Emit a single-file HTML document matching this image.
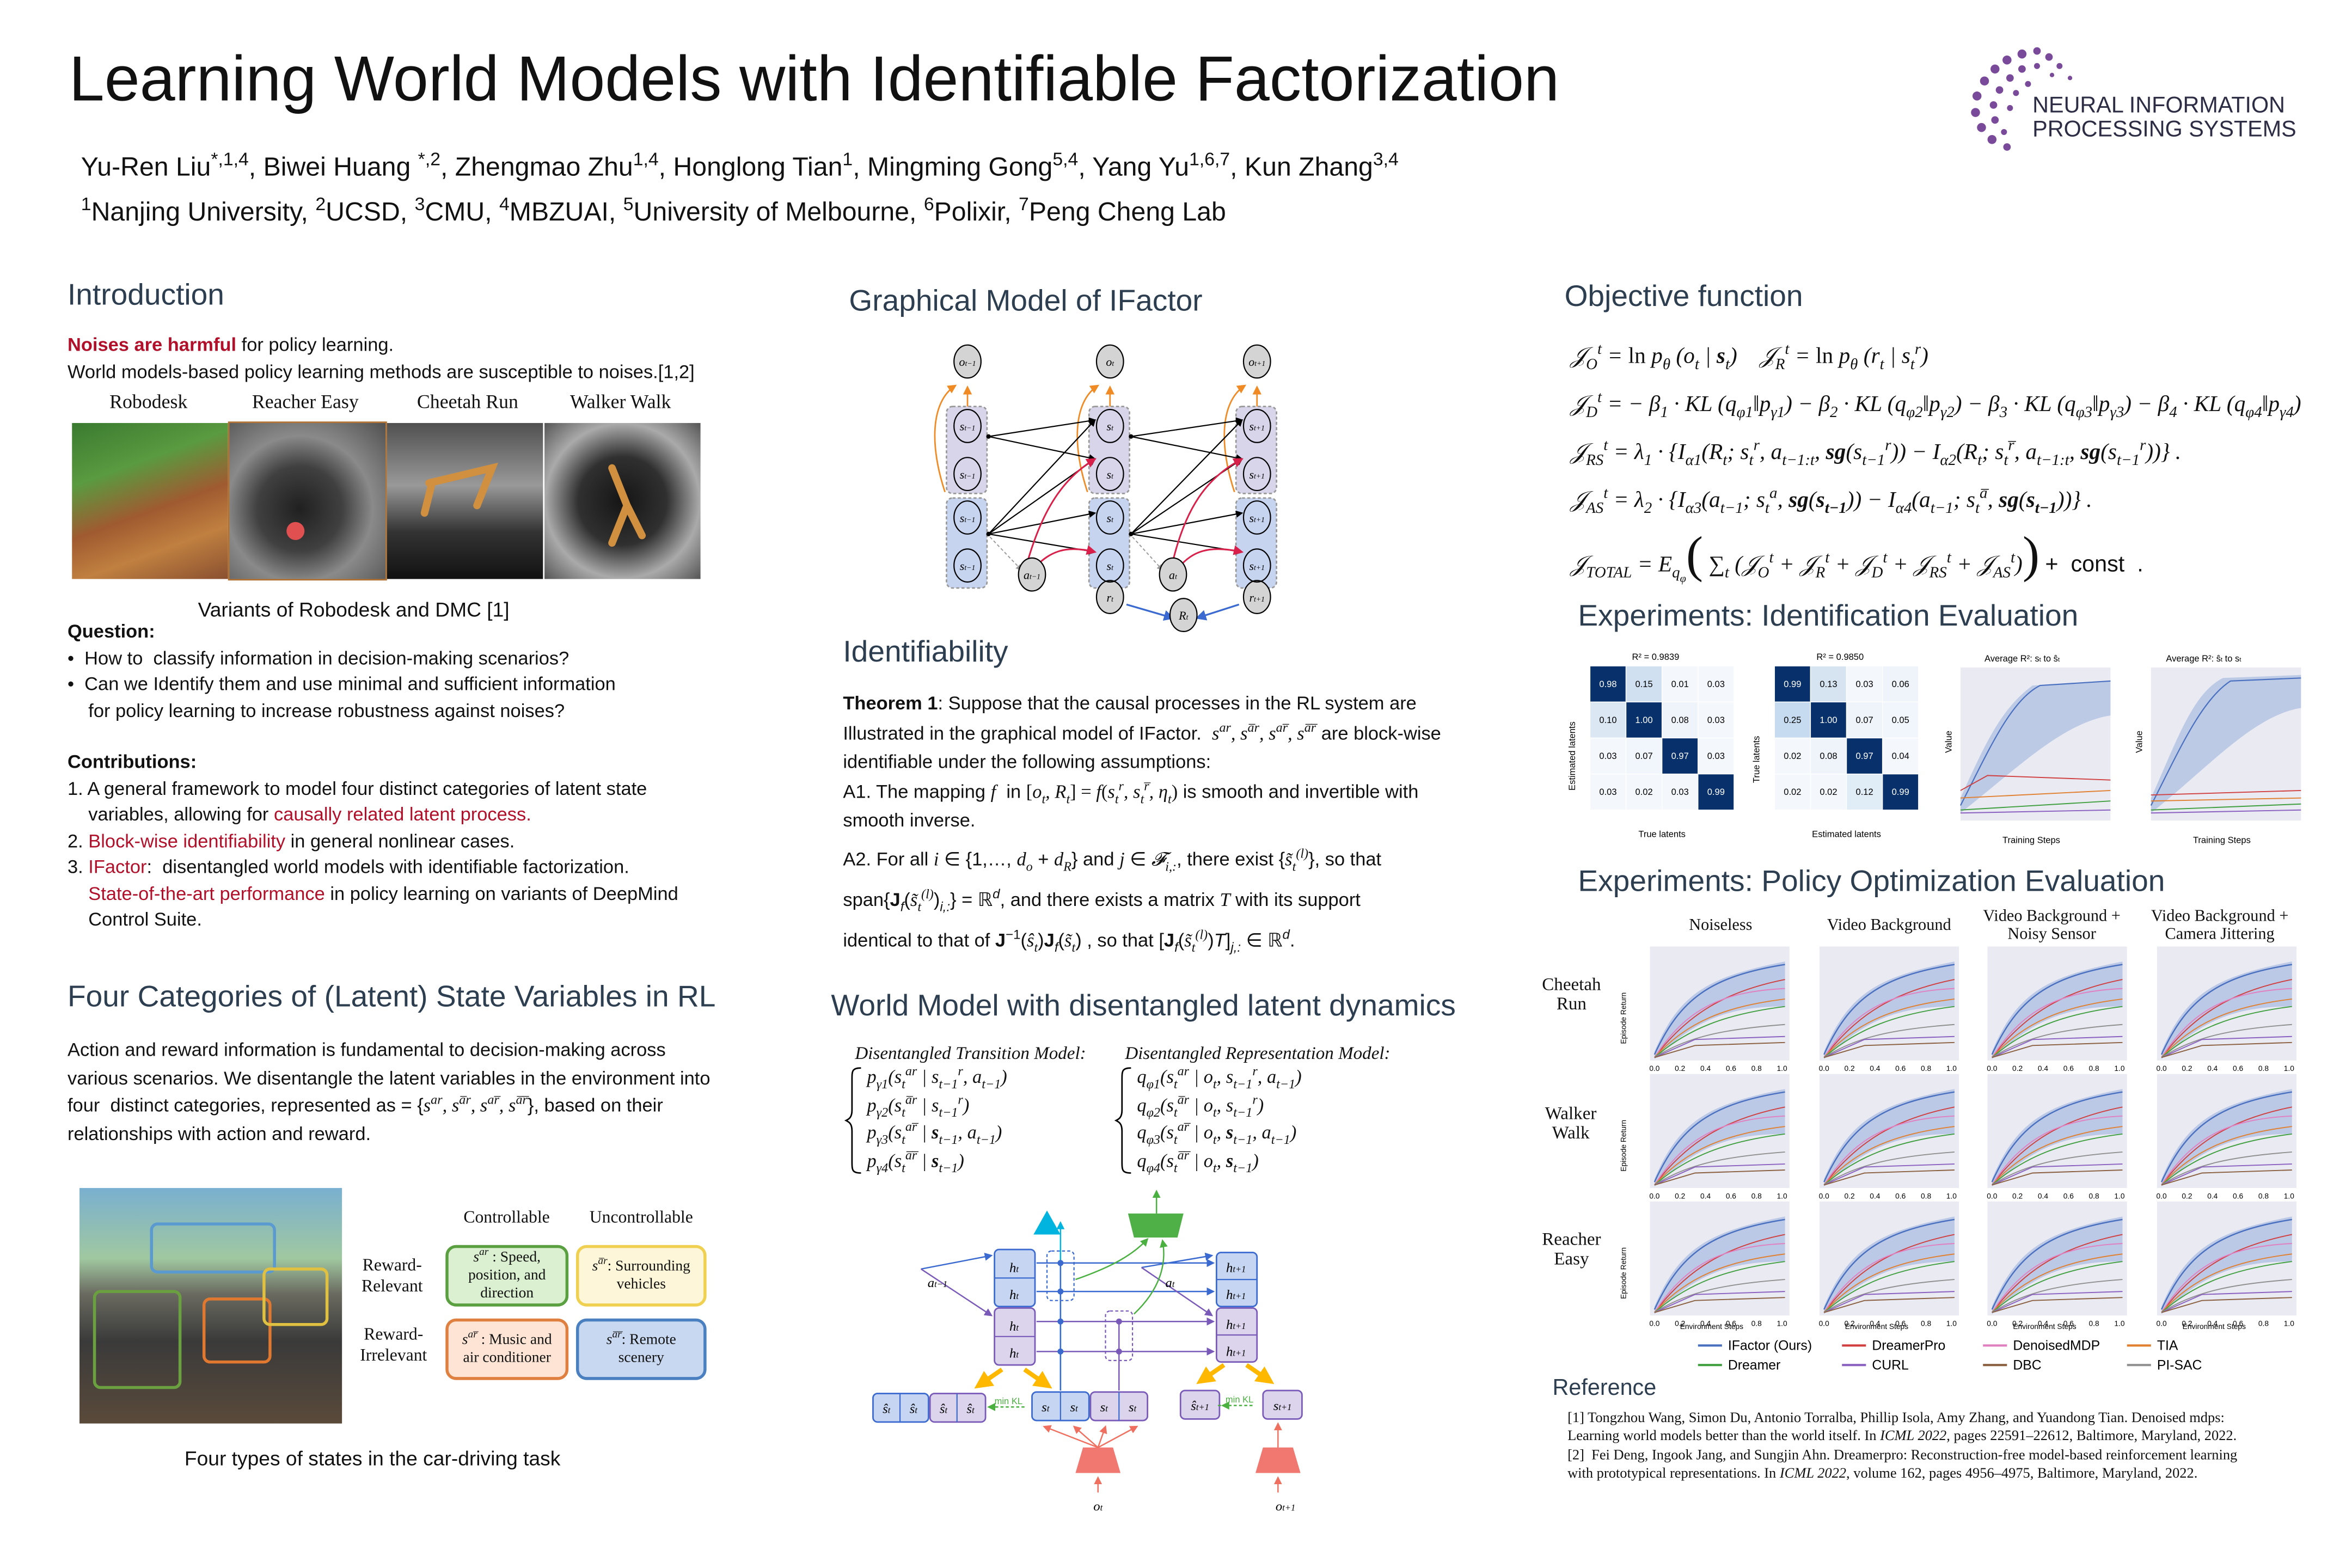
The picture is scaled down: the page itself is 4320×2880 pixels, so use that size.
<!DOCTYPE html>
<html><head><meta charset="utf-8"><style>
html,body{margin:0;padding:0;background:#fff;}
body{width:4320px;height:2880px;overflow:hidden;position:relative;}
#w{position:absolute;left:0;top:0;width:1568px;height:1045px;transform:scale(2.7551);transform-origin:0 0;font-family:"Liberation Sans",sans-serif;color:#111;}
.a{position:absolute;white-space:nowrap;}
.h{font-size:20px;color:#2c3e50;}
.t{font-size:12.5px;line-height:17.5px;}
.r{color:#b0102a;}
.s{font-family:"Liberation Serif",serif;}
.m{font-family:"Liberation Serif",serif;font-style:italic;}
sup,sub{font-size:70%;line-height:0;}
.box{position:absolute;border-radius:7px;border:2px solid;font-family:"Liberation Serif",serif;font-size:10px;text-align:center;display:flex;align-items:center;justify-content:center;line-height:12px;}
</style></head><body><div id="w">

<div class="a" style="left:46px;top:29px;font-size:42.4px;">Learning World Models with Identifiable Factorization</div>
<div class="a" style="left:54px;top:101px;font-size:17.5px;">Yu-Ren Liu<sup>*,1,4</sup>, Biwei Huang <sup>*,2</sup>, Zhengmao Zhu<sup>1,4</sup>, Honglong Tian<sup>1</sup>, Mingming Gong<sup>5,4</sup>, Yang Yu<sup>1,6,7</sup>, Kun Zhang<sup>3,4</sup></div>
<div class="a" style="left:54px;top:131px;font-size:17.5px;"><sup>1</sup>Nanjing University, <sup>2</sup>UCSD, <sup>3</sup>CMU, <sup>4</sup>MBZUAI, <sup>5</sup>University of Melbourne, <sup>6</sup>Polixir, <sup>7</sup>Peng Cheng Lab</div>

<svg class="a" style="left:1308px;top:28px" width="80" height="75">
<g fill="#7a4a9a">
<circle cx="40" cy="8" r="3"/><circle cx="50" cy="6" r="2.5"/><circle cx="58" cy="10" r="2.5"/><circle cx="65" cy="16" r="2"/><circle cx="30" cy="12" r="3"/><circle cx="22" cy="18" r="3"/><circle cx="15" cy="26" r="3"/><circle cx="10" cy="36" r="3"/><circle cx="9" cy="47" r="3"/><circle cx="13" cy="57" r="3"/><circle cx="20" cy="65" r="3"/><circle cx="30" cy="70" r="2.5"/><circle cx="40" cy="18" r="2.5"/><circle cx="32" cy="24" r="2.5"/><circle cx="25" cy="32" r="2.5"/><circle cx="21" cy="42" r="2.5"/><circle cx="22" cy="52" r="2.5"/><circle cx="28" cy="60" r="2"/><circle cx="50" cy="16" r="2"/><circle cx="44" cy="28" r="2"/><circle cx="36" cy="34" r="2"/><circle cx="32" cy="44" r="2"/><circle cx="72" cy="24" r="1.5"/><circle cx="60" cy="22" r="1.5"/></g></svg>
<div class="a" style="left:1355px;top:63px;font-size:15px;line-height:16px;color:#2c2c44;">NEURAL INFORMATION<br>PROCESSING SYSTEMS</div>

<!-- LEFT COLUMN -->
<div class="a h" style="left:45px;top:186px;">Introduction</div>
<div class="a t" style="left:45px;top:222px;"><b class="r">Noises are harmful</b> for policy learning.<br>World models-based policy learning methods are susceptible to noises.[1,2]</div>
<div class="a s" style="left:73px;top:260px;font-size:13px;">Robodesk</div>
<div class="a s" style="left:168px;top:260px;font-size:13px;">Reacher Easy</div>
<div class="a s" style="left:278px;top:260px;font-size:13px;">Cheetah Run</div>
<div class="a s" style="left:380px;top:260px;font-size:13px;">Walker Walk</div>
<div class="a" style="left:48px;top:282px;width:104px;height:104px;background:linear-gradient(160deg,#3a7a30 0%,#5a9a40 30%,#a05a30 55%,#c08040 75%,#8a5030 100%);"></div>
<div class="a" style="left:153px;top:282px;width:104px;height:104px;background:radial-gradient(circle at 45% 55%,#202020 0%,#404040 35%,#8a8a8a 60%,#505050 100%);outline:1px solid #b07030;"></div>
<div class="a" style="left:191px;top:348px;width:12px;height:12px;border-radius:50%;background:#e05050;"></div>
<div class="a" style="left:258px;top:282px;width:104px;height:104px;background:linear-gradient(180deg,#505050 0%,#999 40%,#333 70%,#111 100%);"></div>
<div class="a" style="left:363px;top:282px;width:104px;height:104px;background:radial-gradient(circle at 50% 50%,#151515 0%,#303030 40%,#aaa 70%,#555 100%);"></div>
<svg class="a" style="left:258px;top:282px" width="210" height="104"><g stroke="#d09040" stroke-width="5" fill="none" stroke-linecap="round"><path d="M28 40 L70 30 L60 55 M30 40 L25 60"/><path d="M150 30 L160 55 L150 80 M160 55 L170 75"/></g></svg>
<div class="a" style="left:132px;top:399px;font-size:13.5px;">Variants of Robodesk and DMC [1]</div>
<div class="a t" style="left:45px;top:413px;"><b>Question:</b><br>• &nbsp;How to &nbsp;classify information in decision-making scenarios?<br>• &nbsp;Can we Identify them and use minimal and sufficient information<br>&nbsp;&nbsp;&nbsp;&nbsp;for policy learning to increase robustness against noises?</div>
<div class="a t" style="left:45px;top:500px;"><b>Contributions:</b><br>1. A general framework to model four distinct categories of latent state<br>&nbsp;&nbsp;&nbsp;&nbsp;variables, allowing for <span class="r">causally related latent process.</span><br>2. <span class="r">Block-wise identifiability</span> in general nonlinear cases.<br>3. <span class="r">IFactor</span>: &nbsp;disentangled world models with identifiable factorization.<br>&nbsp;&nbsp;&nbsp;&nbsp;<span class="r">State-of-the-art performance</span> in policy learning on variants of DeepMind<br>&nbsp;&nbsp;&nbsp;&nbsp;Control Suite.</div>
<div class="a h" style="left:45px;top:654px;">Four Categories of (Latent) State Variables in RL</div>
<div class="a t" style="left:45px;top:691px;line-height:18.5px;">Action and reward information is fundamental to decision-making across<br>various scenarios. We disentangle the latent variables in the environment into<br>four &nbsp;distinct categories, represented as = {<i class="m">s<sup>ar</sup>, s<sup>a̅r</sup>, s<sup>ar̅</sup>, s<sup>a̅r̅</sup></i>}, based on their<br>relationships with action and reward.</div>
<div class="a" style="left:53px;top:792px;width:175px;height:157px;background:linear-gradient(180deg,#7ab0d0 0%,#a0c8a0 30%,#6a6a60 45%,#3a3a3a 65%,#5a4a3a 100%);"></div>
<div class="a" style="left:62px;top:860px;width:55px;height:62px;border:2px solid #6aa040;border-radius:5px;"></div>
<div class="a" style="left:100px;top:815px;width:80px;height:30px;border:2px solid #5a9ad0;border-radius:5px;"></div>
<div class="a" style="left:135px;top:865px;width:42px;height:40px;border:2px solid #e07830;border-radius:5px;"></div>
<div class="a" style="left:175px;top:845px;width:40px;height:35px;border:2px solid #e0c040;border-radius:5px;"></div>
<div class="a s" style="left:309px;top:806px;font-size:11.5px;">Controllable</div>
<div class="a s" style="left:393px;top:806px;font-size:11.5px;">Uncontrollable</div>
<div class="a s" style="left:241px;top:837px;font-size:11.5px;line-height:14px;text-align:center;">Reward-<br>Relevant</div>
<div class="a s" style="left:240px;top:883px;font-size:11.5px;line-height:14px;text-align:center;">Reward-<br>Irrelevant</div>
<div class="box" style="left:297px;top:830px;width:78px;height:37px;border-color:#5aa040;background:#daf0d0;"><span><i>s<sup>ar</sup></i> : Speed,<br>position, and<br>direction</span></div>
<div class="box" style="left:384px;top:830px;width:83px;height:37px;border-color:#f0d050;background:#fdf6d8;"><span><i>s<sup>a̅r</sup></i>: Surrounding<br>vehicles</span></div>
<div class="box" style="left:297px;top:879px;width:78px;height:37px;border-color:#e08040;background:#fde4d4;"><span><i>s<sup>ar̅</sup></i> : Music and<br>air conditioner</span></div>
<div class="box" style="left:384px;top:879px;width:83px;height:37px;border-color:#4a80c0;background:#c8d8f0;"><span><i>s<sup>a̅r̅</sup></i>: Remote<br>scenery</span></div>
<div class="a" style="left:123px;top:965px;font-size:13.5px;">Four types of states in the car-driving task</div>

<!-- MIDDLE COLUMN -->
<div class="a h" style="left:566px;top:190px;">Graphical Model of IFactor</div>
<svg class="a" style="left:600px;top:228px" width="280" height="200" font-family="Liberation Serif" font-style="italic" font-size="8">
<defs>
<marker id="k" markerWidth="6" markerHeight="6" refX="5" refY="3" orient="auto"><path d="M0 0L6 3L0 6z" fill="#000"/></marker>
<marker id="o" markerWidth="6" markerHeight="6" refX="5" refY="3" orient="auto"><path d="M0 0L6 3L0 6z" fill="#f08a24"/></marker>
<marker id="rd" markerWidth="6" markerHeight="6" refX="5" refY="3" orient="auto"><path d="M0 0L6 3L0 6z" fill="#d8204a"/></marker>
<marker id="bl" markerWidth="6" markerHeight="6" refX="5" refY="3" orient="auto"><path d="M0 0L6 3L0 6z" fill="#3a6ad0"/></marker>
<marker id="gy" markerWidth="6" markerHeight="6" refX="5" refY="3" orient="auto"><path d="M0 0L6 3L0 6z" fill="#999"/></marker>
</defs>
<g fill="#d8d4ea" stroke="#999" stroke-dasharray="2,1.5"><rect x="31" y="43" width="27" height="58" rx="4"/><rect x="126" y="43" width="27" height="58" rx="4"/><rect x="224" y="43" width="27" height="58" rx="4"/></g>
<g fill="#c6d4f0" stroke="#999" stroke-dasharray="2,1.5"><rect x="31" y="104" width="27" height="60" rx="4"/><rect x="126" y="104" width="27" height="60" rx="4"/><rect x="224" y="104" width="27" height="60" rx="4"/></g>
<g stroke="#f08a24" fill="none" stroke-width="1"><path d="M45 43 L45 30" marker-end="url(#o)"/><path d="M140 43 L140 30" marker-end="url(#o)"/><path d="M238 43 L238 30" marker-end="url(#o)"/><path d="M30 100 C20 70 20 40 37 29" marker-end="url(#o)"/><path d="M125 100 C115 70 115 40 132 29" marker-end="url(#o)"/><path d="M223 100 C213 70 213 40 230 29" marker-end="url(#o)"/></g>
<g stroke="#000" fill="none" stroke-width="0.8" marker-end="url(#k)"><path d="M59 63 L130 52"/><path d="M59 63 L130 78"/><path d="M59 128 L130 52"/><path d="M59 128 L130 78"/><path d="M59 128 L130 114"/><path d="M59 128 L130 140"/><path d="M154 63 L228 52"/><path d="M154 63 L228 78"/><path d="M154 128 L228 52"/><path d="M154 128 L228 78"/><path d="M154 128 L228 114"/><path d="M154 128 L228 140"/></g>
<g fill="#000"><circle cx="59" cy="63" r="1.5"/><circle cx="59" cy="128" r="1.5"/><circle cx="154" cy="63" r="1.5"/><circle cx="154" cy="128" r="1.5"/></g>
<g stroke="#999" stroke-dasharray="2,1.5" fill="none" stroke-width="0.7"><path d="M60 130 L81 152" marker-end="url(#gy)"/><path d="M155 130 L175 152" marker-end="url(#gy)"/></g>
<g stroke="#d8204a" fill="none" stroke-width="1.1"><path d="M84 150 C95 110 110 90 130 78" marker-end="url(#rd)"/><path d="M90 150 C100 140 110 135 130 140" marker-end="url(#rd)"/><path d="M181 150 C190 110 205 90 228 78" marker-end="url(#rd)"/><path d="M186 150 C195 140 205 135 228 140" marker-end="url(#rd)"/></g>
<g stroke="#3a6ad0" fill="none" stroke-width="1.2"><path d="M140 165 L140 176" marker-end="url(#bl)"/><path d="M238 165 L238 176" marker-end="url(#bl)"/><path d="M151 175 L182 184" marker-end="url(#bl)"/><path d="M226 175 L198 184" marker-end="url(#bl)"/></g>
<g fill="#d4d4d4" stroke="#000" stroke-width="0.8"><ellipse cx="45" cy="13" rx="9" ry="11"/><ellipse cx="140" cy="13" rx="9" ry="11"/><ellipse cx="238" cy="13" rx="9" ry="11"/><ellipse cx="88" cy="155" rx="9" ry="11"/><ellipse cx="182" cy="155" rx="9" ry="11"/><ellipse cx="140" cy="170" rx="9" ry="11"/><ellipse cx="238" cy="170" rx="9" ry="11"/><ellipse cx="189" cy="182" rx="9" ry="11"/></g>
<g fill="none" stroke="#000" stroke-width="0.8"><ellipse cx="45" cy="56" rx="9" ry="11"/><ellipse cx="45" cy="88" rx="9" ry="11"/><ellipse cx="45" cy="117" rx="9" ry="11"/><ellipse cx="45" cy="149" rx="9" ry="11"/><ellipse cx="140" cy="56" rx="9" ry="11"/><ellipse cx="140" cy="88" rx="9" ry="11"/><ellipse cx="140" cy="117" rx="9" ry="11"/><ellipse cx="140" cy="149" rx="9" ry="11"/><ellipse cx="238" cy="56" rx="9" ry="11"/><ellipse cx="238" cy="88" rx="9" ry="11"/><ellipse cx="238" cy="117" rx="9" ry="11"/><ellipse cx="238" cy="149" rx="9" ry="11"/></g>
<g text-anchor="middle"><text x="45" y="16">o<tspan font-size="5">t−1</tspan></text><text x="140" y="16">o<tspan font-size="5">t</tspan></text><text x="238" y="16">o<tspan font-size="5">t+1</tspan></text><text x="88" y="158">a<tspan font-size="5">t−1</tspan></text><text x="182" y="158">a<tspan font-size="5">t</tspan></text><text x="140" y="173">r<tspan font-size="5">t</tspan></text><text x="238" y="173">r<tspan font-size="5">t+1</tspan></text><text x="189" y="185">R<tspan font-size="5">t</tspan></text>
<text x="45" y="59">s<tspan font-size="5">t−1</tspan></text><text x="45" y="91">s<tspan font-size="5">t−1</tspan></text><text x="45" y="120">s<tspan font-size="5">t−1</tspan></text><text x="45" y="152">s<tspan font-size="5">t−1</tspan></text>
<text x="140" y="59">s<tspan font-size="5">t</tspan></text><text x="140" y="91">s<tspan font-size="5">t</tspan></text><text x="140" y="120">s<tspan font-size="5">t</tspan></text><text x="140" y="152">s<tspan font-size="5">t</tspan></text>
<text x="238" y="59">s<tspan font-size="5">t+1</tspan></text><text x="238" y="91">s<tspan font-size="5">t+1</tspan></text><text x="238" y="120">s<tspan font-size="5">t+1</tspan></text><text x="238" y="152">s<tspan font-size="5">t+1</tspan></text></g>
</svg>

<div class="a h" style="left:562px;top:424px;">Identifiability</div>
<div class="a t" style="left:562px;top:460px;line-height:19.5px;"><b>Theorem 1</b>: Suppose that the causal processes in the RL system are<br>Illustrated in the graphical model of IFactor. &nbsp;<i class="m">s<sup>ar</sup>, s<sup>a̅r</sup>, s<sup>ar̅</sup>, s<sup>a̅r̅</sup></i> are block-wise<br>identifiable under the following assumptions:<br>A1. The mapping <i class="m">f</i> &nbsp;in <span class="s">[<i>o<sub>t</sub>, R<sub>t</sub></i>] = <i>f</i>(<i>s<sub>t</sub><sup>r</sup>, s<sub>t</sub><sup>r̅</sup>, η<sub>t</sub></i>)</span> is smooth and invertible with<br>smooth inverse.</div>
<div class="a t" style="left:562px;top:560px;line-height:27px;">A2. For all <span class="m">i</span> ∈ {1,…, <span class="m">d<sub>o</sub></span> + <span class="m">d<sub>R</sub></span>} and <span class="m">j</span> ∈ <span class="m">𝓕<sub>i,:</sub></span>, there exist {<span class="m">s̃<sub>t</sub><sup>(l)</sup></span>}, so that<br>span{<b>J</b><sub><i>f</i></sub>(<span class="m">s̃<sub>t</sub><sup>(l)</sup></span>)<sub><i>i,:</i></sub>} = ℝ<sup><i>d</i></sup>, and there exists a matrix <i class="m">T</i> with its support<br>identical to that of <b>J</b><sup>−1</sup>(<span class="m">ŝ<sub>t</sub></span>)<b>J</b><sub><i>f</i></sub>(<span class="m">s̃<sub>t</sub></span>) , so that [<b>J</b><sub><i>f</i></sub>(<span class="m">s̃<sub>t</sub><sup>(l)</sup></span>)<i>T</i>]<sub><i>j,:</i></sub> ∈ ℝ<sup><i>d</i></sup>.</div>

<div class="a h" style="left:554px;top:660px;">World Model with disentangled latent dynamics</div>
<div class="a m" style="left:570px;top:695px;font-size:12px;">Disentangled Transition Model:</div>
<div class="a m" style="left:750px;top:695px;font-size:12px;">Disentangled Representation Model:</div>
<svg class="a" style="left:562px;top:710px" width="400" height="75"><g fill="none" stroke="#000" stroke-width="1"><path d="M12 2 C6 2 6 4 6 10 L6 30 C6 35 4 36 2 37 C4 38 6 39 6 44 L6 64 C6 70 6 72 12 72"/><path d="M192 2 C186 2 186 4 186 10 L186 30 C186 35 184 36 182 37 C184 38 186 39 186 44 L186 64 C186 70 186 72 192 72"/></g></svg>
<div class="a m" style="left:578px;top:709px;font-size:12.5px;line-height:18.5px;">p<sub>γ1</sub>(s<sub>t</sub><sup>ar</sup> | s<sub>t−1</sub><sup>r</sup>, a<sub>t−1</sub>)<br>p<sub>γ2</sub>(s<sub>t</sub><sup>a̅r</sup> | s<sub>t−1</sub><sup>r</sup>)<br>p<sub>γ3</sub>(s<sub>t</sub><sup>ar̅</sup> | <b>s</b><sub>t−1</sub>, a<sub>t−1</sub>)<br>p<sub>γ4</sub>(s<sub>t</sub><sup>a̅r̅</sup> | <b>s</b><sub>t−1</sub>)</div>
<div class="a m" style="left:758px;top:709px;font-size:12.5px;line-height:18.5px;">q<sub>φ1</sub>(s<sub>t</sub><sup>ar</sup> | o<sub>t</sub>, s<sub>t−1</sub><sup>r</sup>, a<sub>t−1</sub>)<br>q<sub>φ2</sub>(s<sub>t</sub><sup>a̅r</sup> | o<sub>t</sub>, s<sub>t−1</sub><sup>r</sup>)<br>q<sub>φ3</sub>(s<sub>t</sub><sup>ar̅</sup> | o<sub>t</sub>, <b>s</b><sub>t−1</sub>, a<sub>t−1</sub>)<br>q<sub>φ4</sub>(s<sub>t</sub><sup>a̅r̅</sup> | o<sub>t</sub>, <b>s</b><sub>t−1</sub>)</div>

<svg class="a" style="left:575px;top:785px" width="310" height="230" font-family="Liberation Serif" font-style="italic" font-size="9">
<defs>
<marker id="b2" markerWidth="6" markerHeight="6" refX="5" refY="3" orient="auto"><path d="M0 0L6 3L0 6z" fill="#3a6ad0"/></marker>
<marker id="p2" markerWidth="6" markerHeight="6" refX="5" refY="3" orient="auto"><path d="M0 0L6 3L0 6z" fill="#7a5ab8"/></marker>
<marker id="g2" markerWidth="6" markerHeight="6" refX="5" refY="3" orient="auto"><path d="M0 0L6 3L0 6z" fill="#4ab040"/></marker>
<marker id="r2" markerWidth="6" markerHeight="6" refX="5" refY="3" orient="auto"><path d="M0 0L6 3L0 6z" fill="#f07060"/></marker>
<marker id="c2" markerWidth="6" markerHeight="6" refX="5" refY="3" orient="auto"><path d="M0 0L6 3L0 6z" fill="#00b4e0"/></marker>
<marker id="y2" markerWidth="4" markerHeight="4" refX="3" refY="2" orient="auto"><path d="M0 0L4 2L0 4z" fill="#ffb800"/></marker>
</defs>
<path d="M123 22 L132 38 L114 38z" fill="#00b4e0"/>
<path d="M177 24 L214 24 L210 40 L181 40z" fill="#50b048"/>
<path d="M147 180 L167 180 L172 197 L142 197z" fill="#f07870"/>
<path d="M267 180 L287 180 L292 197 L262 197z" fill="#f07870"/>
<g fill="#c6d6f2" stroke="#3a6ad0" stroke-width="1"><rect x="88" y="48" width="27" height="38" rx="3"/><rect x="236" y="50" width="27" height="36" rx="3"/><rect x="7" y="144" width="37" height="19" rx="3"/><rect x="113" y="143" width="38" height="19" rx="3"/></g>
<g fill="#dcd4ec" stroke="#7a5ab8" stroke-width="1"><rect x="88" y="87" width="27" height="38" rx="3"/><rect x="236" y="87" width="27" height="36" rx="3"/><rect x="45" y="144" width="37" height="19" rx="3"/><rect x="152" y="143" width="38" height="19" rx="3"/><rect x="212" y="142" width="26" height="19" rx="3"/><rect x="267" y="142" width="26" height="19" rx="3"/></g>
<g stroke-width="0.8"><path d="M88 67H115M236 68H263M25 144V163M63 144V163M132 143V162M171 143V162" stroke="#3a6ad0"/><path d="M88 106H115M236 105H263" stroke="#7a5ab8"/></g>
<g stroke="#3a6ad0" fill="none" stroke-width="0.9"><path d="M116 57H234" marker-end="url(#b2)"/><path d="M116 76H234" marker-end="url(#b2)"/><path d="M132 142V30" marker-end="url(#c2)" stroke="#00b4e0"/><path d="M132 142V57"/><path d="M39 61L86 52" marker-end="url(#b2)"/><path d="M186 60L233 52" marker-end="url(#b2)"/></g>
<g stroke="#7a5ab8" fill="none" stroke-width="0.9"><path d="M116 96H234" marker-end="url(#p2)"/><path d="M116 116H234" marker-end="url(#p2)"/><path d="M171 142V96"/><path d="M39 61L86 92" marker-end="url(#p2)"/><path d="M186 60L233 92" marker-end="url(#p2)"/></g>
<g fill="#3a6ad0"><circle cx="132" cy="57" r="2"/><circle cx="132" cy="76" r="2"/><circle cx="132" cy="96" r="2"/><circle cx="132" cy="116" r="2"/></g>
<g fill="#7a5ab8"><circle cx="171" cy="96" r="2"/><circle cx="171" cy="116" r="2"/></g>
<rect x="123" y="49" width="18" height="33" rx="3" fill="none" stroke="#3a6ad0" stroke-dasharray="2,1.5" stroke-width="0.8"/>
<rect x="162" y="89" width="18" height="33" rx="3" fill="none" stroke="#7a5ab8" stroke-dasharray="2,1.5" stroke-width="0.8"/>
<g stroke="#4ab040" fill="none" stroke-width="0.9"><path d="M196 24V9" marker-end="url(#g2)"/><path d="M142 68C165 60 180 52 190 41" marker-end="url(#g2)"/><path d="M181 91C198 75 203 58 200 42" marker-end="url(#g2)"/><path d="M85 153H108M108 153H84" stroke-dasharray="2,1.5" marker-end="url(#g2)"/><path d="M237 152H260M260 152H240" stroke-dasharray="2,1.5" marker-end="url(#g2)"/></g>
<g stroke="#ffb800" stroke-width="3" fill="none"><path d="M93 128L77 139" marker-end="url(#y2)"/><path d="M108 128L124 139" marker-end="url(#y2)"/><path d="M241 125L225 136" marker-end="url(#y2)"/><path d="M256 125L272 136" marker-end="url(#y2)"/></g>
<g stroke="#f07060" fill="none" stroke-width="0.9"><path d="M157 180L121 166" marker-end="url(#r2)"/><path d="M157 180L141 166" marker-end="url(#r2)"/><path d="M157 180L162 166" marker-end="url(#r2)"/><path d="M157 180L183 166" marker-end="url(#r2)"/><path d="M277 180V164" marker-end="url(#r2)"/><path d="M157 210V200" marker-end="url(#r2)"/><path d="M277 210V200" marker-end="url(#r2)"/></g>
<g text-anchor="middle"><text x="101" y="63">h<tspan font-size="6">t</tspan></text><text x="101" y="81">h<tspan font-size="6">t</tspan></text><text x="101" y="102">h<tspan font-size="6">t</tspan></text><text x="101" y="120">h<tspan font-size="6">t</tspan></text><text x="249" y="63">h<tspan font-size="6">t+1</tspan></text><text x="249" y="81">h<tspan font-size="6">t+1</tspan></text><text x="249" y="101">h<tspan font-size="6">t+1</tspan></text><text x="249" y="119">h<tspan font-size="6">t+1</tspan></text>
<text x="16" y="157">ŝ<tspan font-size="6">t</tspan></text><text x="34" y="157">ŝ<tspan font-size="6">t</tspan></text><text x="54" y="157">ŝ<tspan font-size="6">t</tspan></text><text x="72" y="157">ŝ<tspan font-size="6">t</tspan></text><text x="122" y="156">s<tspan font-size="6">t</tspan></text><text x="141" y="156">s<tspan font-size="6">t</tspan></text><text x="161" y="156">s<tspan font-size="6">t</tspan></text><text x="180" y="156">s<tspan font-size="6">t</tspan></text><text x="225" y="155">ŝ<tspan font-size="6">t+1</tspan></text><text x="280" y="155">s<tspan font-size="6">t+1</tspan></text>
<text x="50" y="73">a<tspan font-size="6">t−1</tspan></text><text x="205" y="73">a<tspan font-size="6">t</tspan></text><text x="157" y="222">o<tspan font-size="6">t</tspan></text><text x="282" y="222">o<tspan font-size="6">t+1</tspan></text></g>
<g font-style="normal" font-family="Liberation Sans" font-size="6" fill="#4ab040"><text x="88" y="151">min KL</text><text x="242" y="150">min KL</text></g>
</svg>

<!-- RIGHT COLUMN -->
<div class="a h" style="left:1043px;top:187px;">Objective function</div>
<div class="a m" style="left:1047px;top:222px;font-size:15px;line-height:32px;">𝒥<sub>O</sub><sup>t</sup> = <span style="font-style:normal">ln</span> p<sub>θ</sub> (o<sub>t</sub> | <b>s</b><sub>t</sub>) &nbsp;&nbsp;&nbsp;𝒥<sub>R</sub><sup>t</sup> = <span style="font-style:normal">ln</span> p<sub>θ</sub> (r<sub>t</sub> | s<sub>t</sub><sup>r</sup>)<br>𝒥<sub>D</sub><sup>t</sup> = − β<sub>1</sub> · KL (q<sub>φ1</sub>‖p<sub>γ1</sub>) − β<sub>2</sub> · KL (q<sub>φ2</sub>‖p<sub>γ2</sub>) − β<sub>3</sub> · KL (q<sub>φ3</sub>‖p<sub>γ3</sub>) − β<sub>4</sub> · KL (q<sub>φ4</sub>‖p<sub>γ4</sub>)<br>𝒥<sub>RS</sub><sup>t</sup> = λ<sub>1</sub> · {I<sub>α1</sub>(R<sub>t</sub>; s<sub>t</sub><sup>r</sup>, a<sub>t−1:t</sub>, <b>sg</b>(s<sub>t−1</sub><sup>r</sup>)) − I<sub>α2</sub>(R<sub>t</sub>; s<sub>t</sub><sup>r̅</sup>, a<sub>t−1:t</sub>, <b>sg</b>(s<sub>t−1</sub><sup>r</sup>))} .<br>𝒥<sub>AS</sub><sup>t</sup> = λ<sub>2</sub> · {I<sub>α3</sub>(a<sub>t−1</sub>; s<sub>t</sub><sup>a</sup>, <b>sg</b>(<b>s<sub>t−1</sub></b>)) − I<sub>α4</sub>(a<sub>t−1</sub>; s<sub>t</sub><sup>a̅</sup>, <b>sg</b>(<b>s<sub>t−1</sub></b>))} .</div>
<div class="a m" style="left:1047px;top:352px;font-size:15px;">𝒥<sub>TOTAL</sub> = E<sub>q<sub>φ</sub></sub><span style="font-size:34px;font-style:normal;">(</span> ∑<sub>t</sub> (𝒥<sub>O</sub><sup>t</sup> + 𝒥<sub>R</sub><sup>t</sup> + 𝒥<sub>D</sub><sup>t</sup> + 𝒥<sub>RS</sub><sup>t</sup> + 𝒥<sub>AS</sub><sup>t</sup>)<span style="font-size:34px;font-style:normal;">)</span> <span style="font-style:normal;font-family:'Liberation Sans'">+ &nbsp;const &nbsp;.</span></div>

<div class="a h" style="left:1052px;top:400px;">Experiments: Identification Evaluation</div>
<svg class="a" style="left:1040px;top:432px" width="500" height="132" font-family="Liberation Sans" font-size="6">
<g>
<text x="48" y="8">R² = 0.9839</text>
<g stroke="#fff" stroke-width="0.5">
<rect x="20" y="12" width="24" height="24" fill="#08306b"/><rect x="44" y="12" width="24" height="24" fill="#d0e0f0"/><rect x="68" y="12" width="24" height="24" fill="#f4f8fc"/><rect x="92" y="12" width="24" height="24" fill="#f4f8fc"/>
<rect x="20" y="36" width="24" height="24" fill="#dbe8f4"/><rect x="44" y="36" width="24" height="24" fill="#08306b"/><rect x="68" y="36" width="24" height="24" fill="#eef4fa"/><rect x="92" y="36" width="24" height="24" fill="#f4f8fc"/>
<rect x="20" y="60" width="24" height="24" fill="#f4f8fc"/><rect x="44" y="60" width="24" height="24" fill="#f0f6fb"/><rect x="68" y="60" width="24" height="24" fill="#08306b"/><rect x="92" y="60" width="24" height="24" fill="#f4f8fc"/>
<rect x="20" y="84" width="24" height="24" fill="#f4f8fc"/><rect x="44" y="84" width="24" height="24" fill="#f4f8fc"/><rect x="68" y="84" width="24" height="24" fill="#f4f8fc"/><rect x="92" y="84" width="24" height="24" fill="#08306b"/></g>
<g text-anchor="middle"><text x="32" y="26" fill="#fff">0.98</text><text x="56" y="26">0.15</text><text x="80" y="26">0.01</text><text x="104" y="26">0.03</text><text x="32" y="50">0.10</text><text x="56" y="50" fill="#fff">1.00</text><text x="80" y="50">0.08</text><text x="104" y="50">0.03</text><text x="32" y="74">0.03</text><text x="56" y="74">0.07</text><text x="80" y="74" fill="#fff">0.97</text><text x="104" y="74">0.03</text><text x="32" y="98">0.03</text><text x="56" y="98">0.02</text><text x="80" y="98">0.03</text><text x="104" y="98" fill="#fff">0.99</text>
<text x="68" y="126">True latents</text></g>
<text transform="translate(10,95) rotate(-90)">Estimated latents</text>
</g>
<g transform="translate(123,0)">
<text x="48" y="8">R² = 0.9850</text>
<g stroke="#fff" stroke-width="0.5">
<rect x="20" y="12" width="24" height="24" fill="#08306b"/><rect x="44" y="12" width="24" height="24" fill="#d6e4f2"/><rect x="68" y="12" width="24" height="24" fill="#f4f8fc"/><rect x="92" y="12" width="24" height="24" fill="#eef4fa"/>
<rect x="20" y="36" width="24" height="24" fill="#c6dbef"/><rect x="44" y="36" width="24" height="24" fill="#08306b"/><rect x="68" y="36" width="24" height="24" fill="#eef4fa"/><rect x="92" y="36" width="24" height="24" fill="#f0f6fb"/>
<rect x="20" y="60" width="24" height="24" fill="#f4f8fc"/><rect x="44" y="60" width="24" height="24" fill="#eef4fa"/><rect x="68" y="60" width="24" height="24" fill="#08306b"/><rect x="92" y="60" width="24" height="24" fill="#f4f8fc"/>
<rect x="20" y="84" width="24" height="24" fill="#f4f8fc"/><rect x="44" y="84" width="24" height="24" fill="#f4f8fc"/><rect x="68" y="84" width="24" height="24" fill="#e0ecf6"/><rect x="92" y="84" width="24" height="24" fill="#08306b"/></g>
<g text-anchor="middle"><text x="32" y="26" fill="#fff">0.99</text><text x="56" y="26">0.13</text><text x="80" y="26">0.03</text><text x="104" y="26">0.06</text><text x="32" y="50">0.25</text><text x="56" y="50" fill="#fff">1.00</text><text x="80" y="50">0.07</text><text x="104" y="50">0.05</text><text x="32" y="74">0.02</text><text x="56" y="74">0.08</text><text x="80" y="74" fill="#fff">0.97</text><text x="104" y="74">0.04</text><text x="32" y="98">0.02</text><text x="56" y="98">0.02</text><text x="80" y="98">0.12</text><text x="104" y="98" fill="#fff">0.99</text>
<text x="68" y="126">Estimated latents</text></g>
<text transform="translate(10,90) rotate(-90)">True latents</text>
</g>
<g transform="translate(255,0)">
<text x="28" y="9">Average R²: s<tspan font-size="4">t</tspan> to ŝ<tspan font-size="4">t</tspan></text>
<rect x="12" y="13" width="100" height="102" fill="#eaeaf2"/>
<path d="M12 100 C30 60 40 40 60 25 L112 22 L112 45 C80 50 50 80 12 110z" fill="#a8bce0" opacity="0.7"/>
<path d="M12 105 C30 70 45 35 65 25 L112 22" stroke="#4a70c0" fill="none" stroke-width="0.8"/>
<path d="M12 95 L30 85 L112 88" stroke="#d04040" fill="none" stroke-width="0.7"/><path d="M12 100 L112 95" stroke="#e08030" fill="none" stroke-width="0.7"/><path d="M12 108 L112 102" stroke="#40a040" fill="none" stroke-width="0.7"/><path d="M12 110 L112 108" stroke="#8a60c0" fill="none" stroke-width="0.7"/>
<text x="40" y="130">Training Steps</text><text transform="translate(6,70) rotate(-90)">Value</text>
</g>
<g transform="translate(382,0)">
<text x="22" y="9">Average R²: ŝ<tspan font-size="4">t</tspan> to s<tspan font-size="4">t</tspan></text>
<rect x="12" y="13" width="100" height="102" fill="#eaeaf2"/>
<path d="M12 100 C30 60 40 30 60 20 L112 18 L112 40 C80 45 50 80 12 110z" fill="#a8bce0" opacity="0.7"/>
<path d="M12 105 C30 70 45 35 65 22 L112 20" stroke="#4a70c0" fill="none" stroke-width="0.8"/>
<path d="M12 98 L112 95" stroke="#d04040" fill="none" stroke-width="0.7"/><path d="M12 102 L112 100" stroke="#e08030" fill="none" stroke-width="0.7"/><path d="M12 108 L112 104" stroke="#40a040" fill="none" stroke-width="0.7"/><path d="M12 110 L112 108" stroke="#8a60c0" fill="none" stroke-width="0.7"/>
<text x="40" y="130">Training Steps</text><text transform="translate(6,70) rotate(-90)">Value</text>
</g>
</svg>

<div class="a h" style="left:1052px;top:577px;">Experiments: Policy Optimization Evaluation</div>
<div class="a s" style="left:1126px;top:611px;font-size:11px;">Noiseless</div>
<div class="a s" style="left:1218px;top:611px;font-size:11px;">Video Background</div>
<div class="a s" style="left:1322px;top:605px;font-size:11px;line-height:12px;text-align:center;">Video Background +<br>Noisy Sensor</div>
<div class="a s" style="left:1434px;top:605px;font-size:11px;line-height:12px;text-align:center;">Video Background +<br>Camera Jittering</div>
<div class="a s" style="left:1028px;top:650px;font-size:12px;line-height:13px;text-align:center;">Cheetah<br>Run</div>
<div class="a s" style="left:1030px;top:736px;font-size:12px;line-height:13px;text-align:center;">Walker<br>Walk</div>
<div class="a s" style="left:1028px;top:820px;font-size:12px;line-height:13px;text-align:center;">Reacher<br>Easy</div>
<svg class="a" style="left:1070px;top:626px" width="470" height="265" font-family="Liberation Sans" font-size="5">
<defs><g id="pl">
<rect x="0" y="0" width="93" height="76" fill="#eaeaf2"/>
<path d="M3 70 C20 30 40 20 90 10 L90 40 C50 40 30 50 3 75z" fill="#b0c0e2" opacity="0.8"/>
<path d="M3 72 C20 35 40 20 90 12" stroke="#4a70c0" fill="none" stroke-width="0.9"/>
<path d="M3 74 C25 45 50 30 90 22" stroke="#d04040" fill="none" stroke-width="0.7"/>
<path d="M3 74 C25 40 50 30 90 28" stroke="#e080c0" fill="none" stroke-width="0.7"/>
<path d="M3 74 C25 50 50 40 90 35" stroke="#e08030" fill="none" stroke-width="0.7"/>
<path d="M3 74 C25 55 50 45 90 40" stroke="#40a040" fill="none" stroke-width="0.7"/>
<path d="M3 74 C25 60 50 55 90 52" stroke="#909090" fill="none" stroke-width="0.7"/>
<path d="M3 74 L30 62 L90 60" stroke="#8a60c0" fill="none" stroke-width="0.7"/>
<path d="M3 74 L30 66 L90 64" stroke="#8a6040" fill="none" stroke-width="0.7"/>
<g text-anchor="middle"><text x="3" y="83">0.0</text><text x="20" y="83">0.2</text><text x="37" y="83">0.4</text><text x="54" y="83">0.6</text><text x="71" y="83">0.8</text><text x="88" y="83">1.0</text></g>
</g></defs>
<use href="#pl" x="30" y="5"/><use href="#pl" x="143" y="5"/><use href="#pl" x="255" y="5"/><use href="#pl" x="368" y="5"/>
<use href="#pl" x="30" y="90"/><use href="#pl" x="143" y="90"/><use href="#pl" x="255" y="90"/><use href="#pl" x="368" y="90"/>
<use href="#pl" x="30" y="175"/><use href="#pl" x="143" y="175"/><use href="#pl" x="255" y="175"/><use href="#pl" x="368" y="175"/>
<text transform="translate(14,70) rotate(-90)">Episode Return</text><text transform="translate(14,155) rotate(-90)">Episode Return</text><text transform="translate(14,240) rotate(-90)">Episode Return</text>
<text x="50" y="260">Environment Steps</text><text x="160" y="260">Environment Steps</text><text x="272" y="260">Environment Steps</text><text x="385" y="260">Environment Steps</text>
</svg>
<svg class="a" style="left:1130px;top:891px" width="400" height="25" font-family="Liberation Sans" font-size="9">
<g stroke-width="1.5"><path d="M2 6H18" stroke="#4a70c0"/><path d="M2 19H18" stroke="#40a040"/><path d="M98 6H114" stroke="#d04040"/><path d="M98 19H114" stroke="#8a60c0"/><path d="M192 6H208" stroke="#e080c0"/><path d="M192 19H208" stroke="#8a6040"/><path d="M288 6H304" stroke="#e08030"/><path d="M288 19H304" stroke="#909090"/></g>
<text x="22" y="9">IFactor (Ours)</text><text x="22" y="22">Dreamer</text><text x="118" y="9">DreamerPro</text><text x="118" y="22">CURL</text><text x="212" y="9">DenoisedMDP</text><text x="212" y="22">DBC</text><text x="308" y="9">TIA</text><text x="308" y="22">PI-SAC</text>
</svg>

<div class="a" style="left:1035px;top:917px;font-size:15px;color:#2c3e50;">Reference</div>
<div class="a s" style="left:1045px;top:940px;font-size:9.6px;line-height:12.3px;">[1] Tongzhou Wang, Simon Du, Antonio Torralba, Phillip Isola, Amy Zhang, and Yuandong Tian. Denoised mdps:<br>Learning world models better than the world itself. In <i>ICML 2022</i>, pages 22591–22612, Baltimore, Maryland, 2022.<br>[2] &nbsp;Fei Deng, Ingook Jang, and Sungjin Ahn. Dreamerpro: Reconstruction-free model-based reinforcement learning<br>with prototypical representations. In <i>ICML 2022</i>, volume 162, pages 4956–4975, Baltimore, Maryland, 2022.</div>

</div></body></html>
